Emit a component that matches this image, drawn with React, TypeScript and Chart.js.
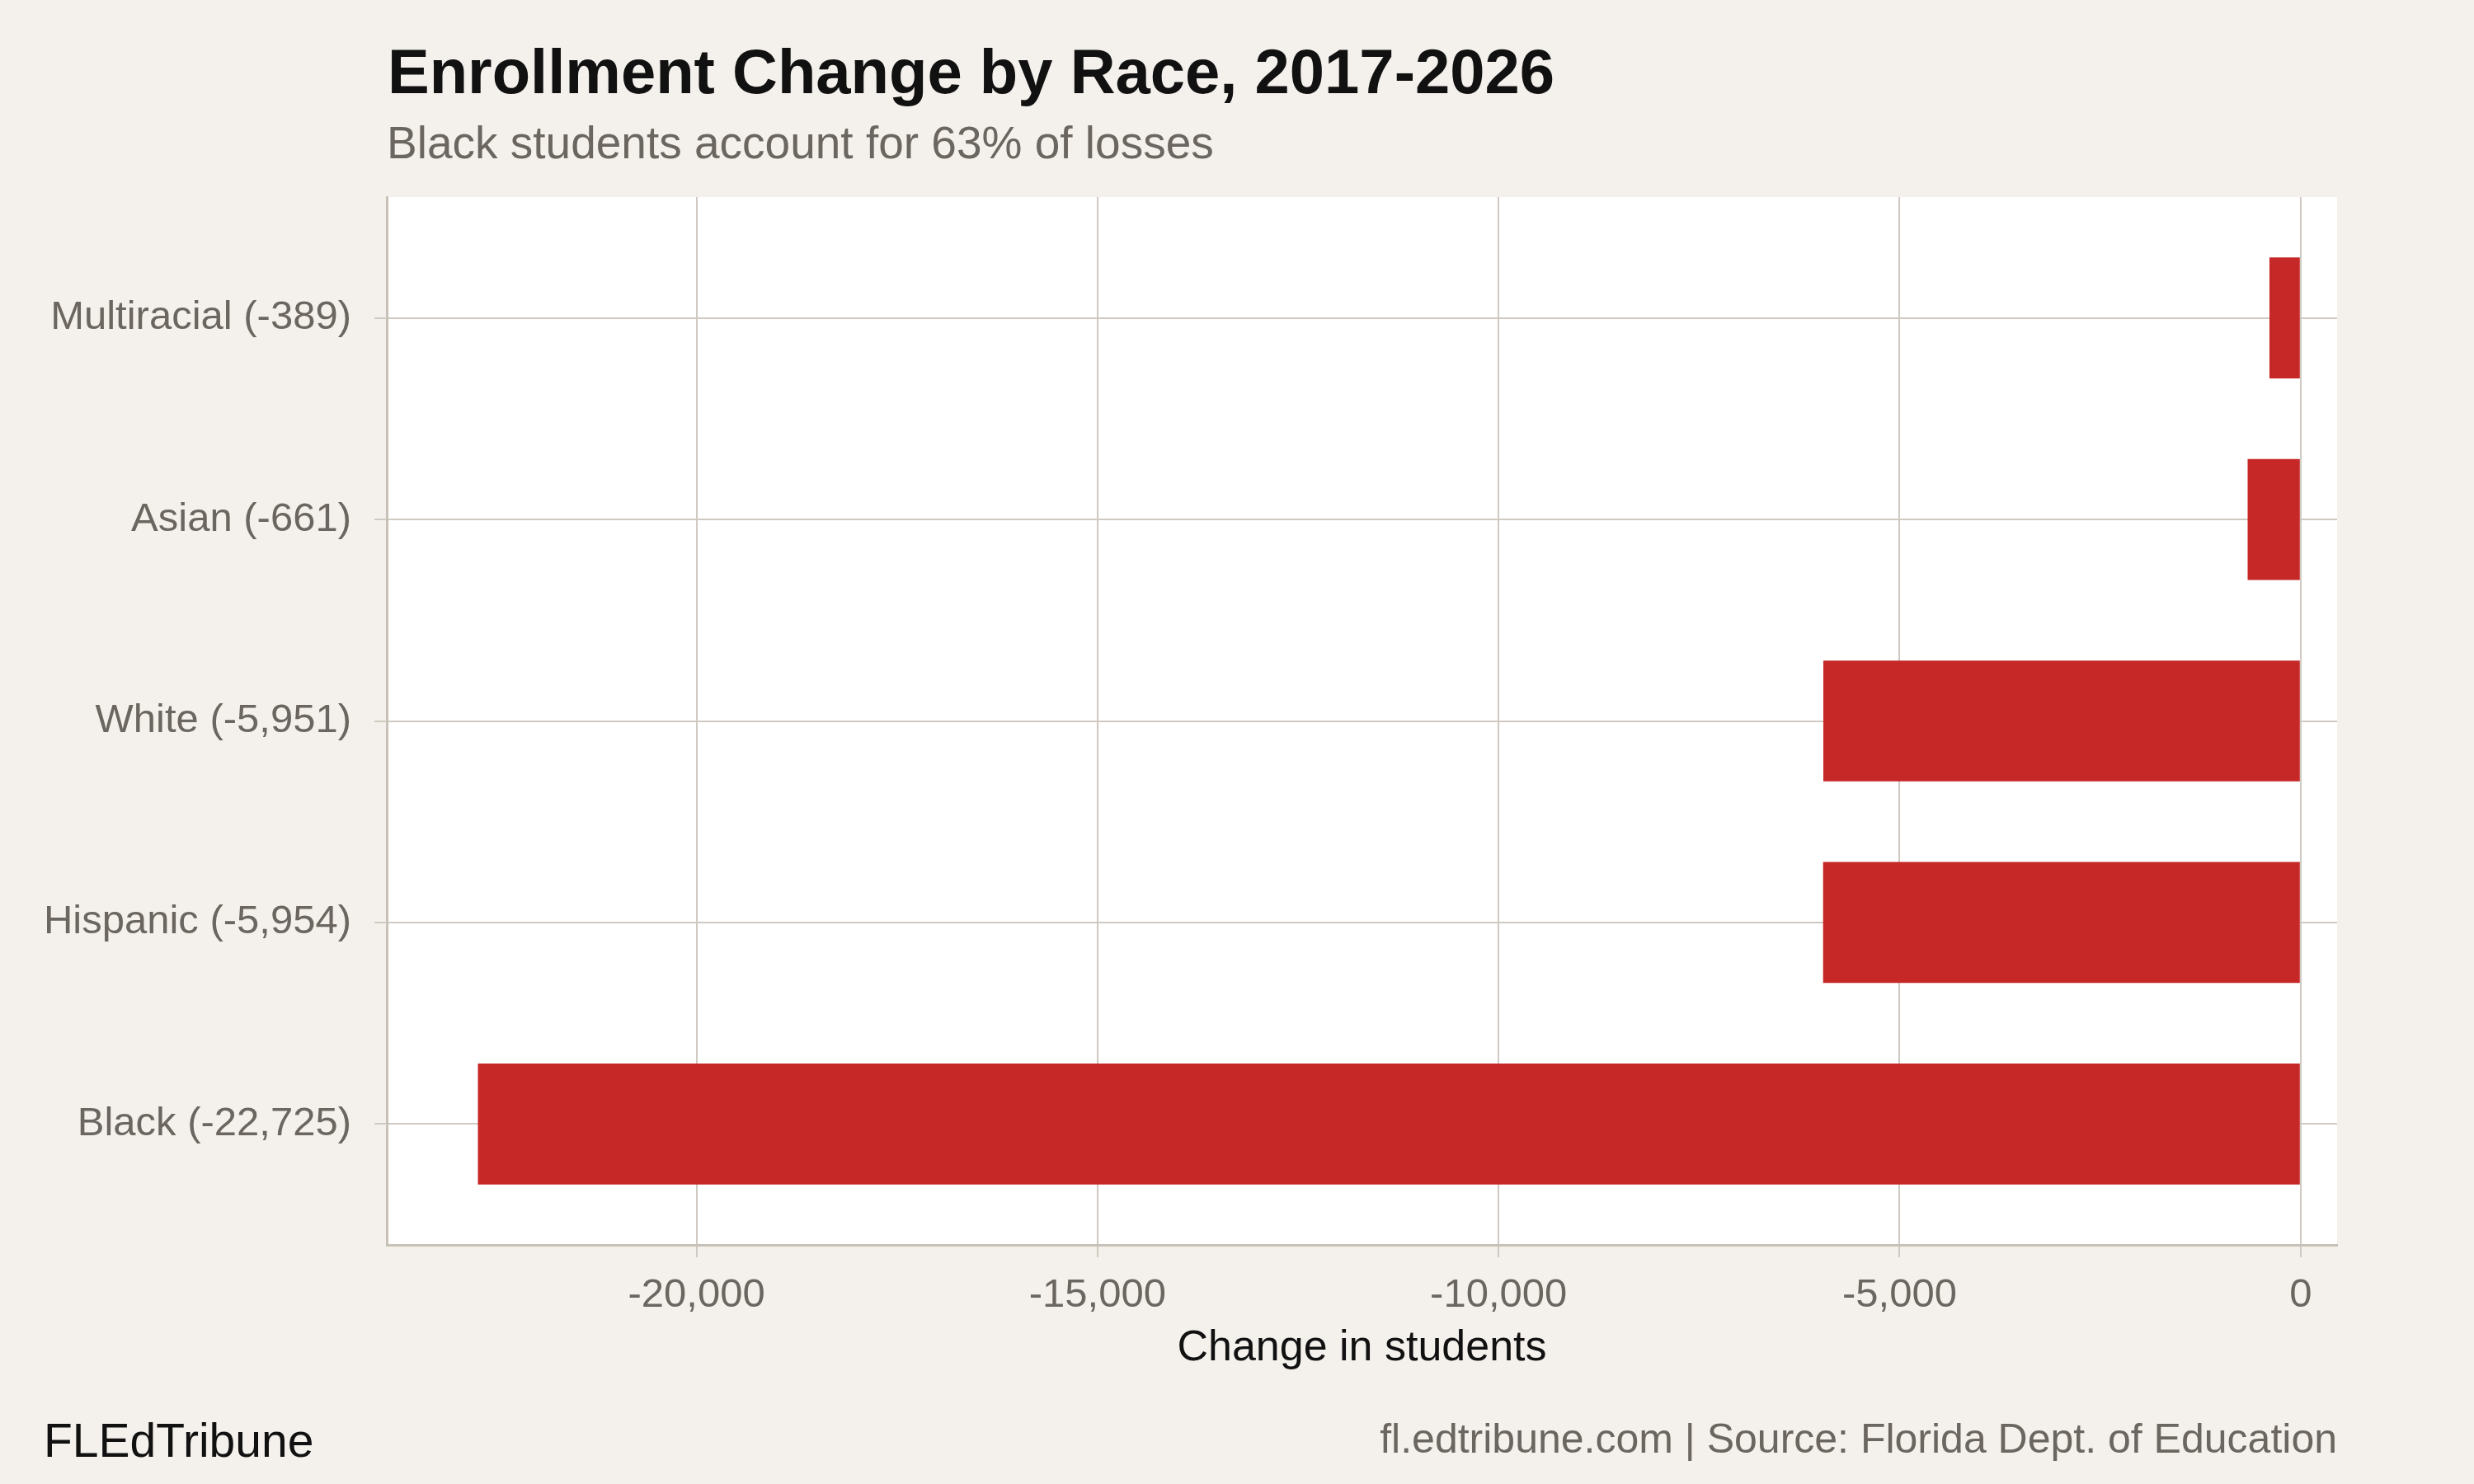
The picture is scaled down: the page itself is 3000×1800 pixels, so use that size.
import React, { useEffect, useRef } from 'react';
import { Chart, registerables } from 'chart.js';

Chart.register(...registerables);

// ---- data ----
const categories = ['Multiracial (-389)', 'Asian (-661)', 'White (-5,951)', 'Hispanic (-5,954)', 'Black (-22,725)'];
const changeValues = [-389, -661, -5951, -5954, -22725];
const xTickValues = [-20000, -15000, -10000, -5000, 0];

const titleText = 'Enrollment Change by Race, 2017-2026';
const subtitleText = 'Black students account for 63% of losses';
const xAxisTitle = 'Change in students';
const brandText = 'FLEdTribune';
const captionText = 'fl.edtribune.com | Source: Florida Dept. of Education';

// ---- style ----
const FONT = '"Liberation Sans", Arial, Helvetica, sans-serif';
const BG = '#F4F1EC';
const GRID = '#CFC9C1';
const AXIS = '#C8C1B7';
const LABEL = '#6B665F';
const BAR = '#C62828';

const dataMin = Math.min(...changeValues, 0);
const dataMax = Math.max(...changeValues, 0);
const range = dataMax - dataMin;
const xMin = dataMin - 0.05 * range;
const xMax = dataMax + 0.02 * range;

const decorPlugin = {
  id: 'decor',
  beforeDraw(chart: any) {
    const { ctx, chartArea: a } = chart;
    ctx.save();
    ctx.fillStyle = '#ffffff';
    ctx.fillRect(a.left, a.top, a.right - a.left, a.bottom - a.top);
    ctx.restore();
  },
  afterDraw(chart: any) {
    const { ctx, chartArea: a } = chart;
    ctx.save();
    ctx.textBaseline = 'alphabetic';
    ctx.textAlign = 'left';
    ctx.fillStyle = '#111111';
    ctx.font = `bold 76px ${FONT}`;
    ctx.fillText(titleText, a.left + 1, 113);
    ctx.fillStyle = LABEL;
    ctx.font = `55px ${FONT}`;
    ctx.fillText(subtitleText, a.left, 192);
    ctx.fillStyle = '#111111';
    ctx.font = `57px ${FONT}`;
    ctx.fillText(brandText, 53, 1767);
    ctx.textAlign = 'right';
    ctx.fillStyle = LABEL;
    ctx.font = `50px ${FONT}`;
    ctx.fillText(captionText, a.right, 1762);
    ctx.restore();
  },
};

export default function App() {
  const canvasRef = useRef<HTMLCanvasElement | null>(null);

  useEffect(() => {
    document.body.style.margin = '0';
    document.body.style.background = BG;
    const canvas = canvasRef.current;
    if (!canvas) return;
    const chart = new Chart(canvas, {
      type: 'bar',
      data: {
        datasets: [
          {
            data: changeValues.map((v, i) => ({ x: v, y: i })),
            backgroundColor: BAR,
            borderWidth: 0,
            categoryPercentage: 1,
            barPercentage: 0.6,
          } as any,
        ],
      },
      options: {
        indexAxis: 'y',
        responsive: false,
        animation: false,
        devicePixelRatio: 1,
        layout: { padding: { top: 239, right: 166, bottom: 133, left: 0 } },
        plugins: {
          legend: { display: false },
          tooltip: { enabled: false },
          title: { display: false },
        },
        scales: {
          x: {
            type: 'linear',
            min: xMin,
            max: xMax,
            offset: false,
            afterBuildTicks: (s: any) => {
              s.ticks = xTickValues.map((v) => ({ value: v }));
            },
            afterFit: (s: any) => {
              s.height = 157;
            },
            grid: { color: GRID, lineWidth: 2, tickLength: 15, drawTicks: true, offset: false },
            border: { display: true, color: AXIS, width: 3 },
            ticks: {
              color: LABEL,
              font: { family: FONT, size: 49 },
              padding: 17,
              maxRotation: 0,
              autoSkip: false,
              callback: (v: any) => Number(v).toLocaleString('en-US'),
            },
            title: {
              display: true,
              text: xAxisTitle,
              color: '#111111',
              font: { family: FONT, size: 52 },
              padding: { top: 0, bottom: 0 },
            },
          },
          y: {
            type: 'linear',
            min: -0.6,
            max: categories.length - 0.4,
            reverse: true,
            offset: false,
            afterBuildTicks: (s: any) => {
              s.ticks = categories.map((_, i) => ({ value: i }));
            },
            afterFit: (s: any) => {
              s.width = 469;
            },
            grid: { color: GRID, lineWidth: 2, tickLength: 15, drawTicks: true, offset: false },
            border: { display: true, color: AXIS, width: 3 },
            ticks: {
              color: LABEL,
              font: { family: FONT, size: 49 },
              padding: 28,
              autoSkip: false,
              callback: (v: any) => categories[Number(v)] ?? '',
            },
          },
        } as any,
      },
      plugins: [decorPlugin],
    });
    return () => chart.destroy();
  }, []);

  return (
    <div style={{ width: 3000, height: 1800, background: BG, overflow: 'hidden' }}>
      <canvas ref={canvasRef} width={3000} height={1800} style={{ width: 3000, height: 1800, display: 'block' }} />
    </div>
  );
}
